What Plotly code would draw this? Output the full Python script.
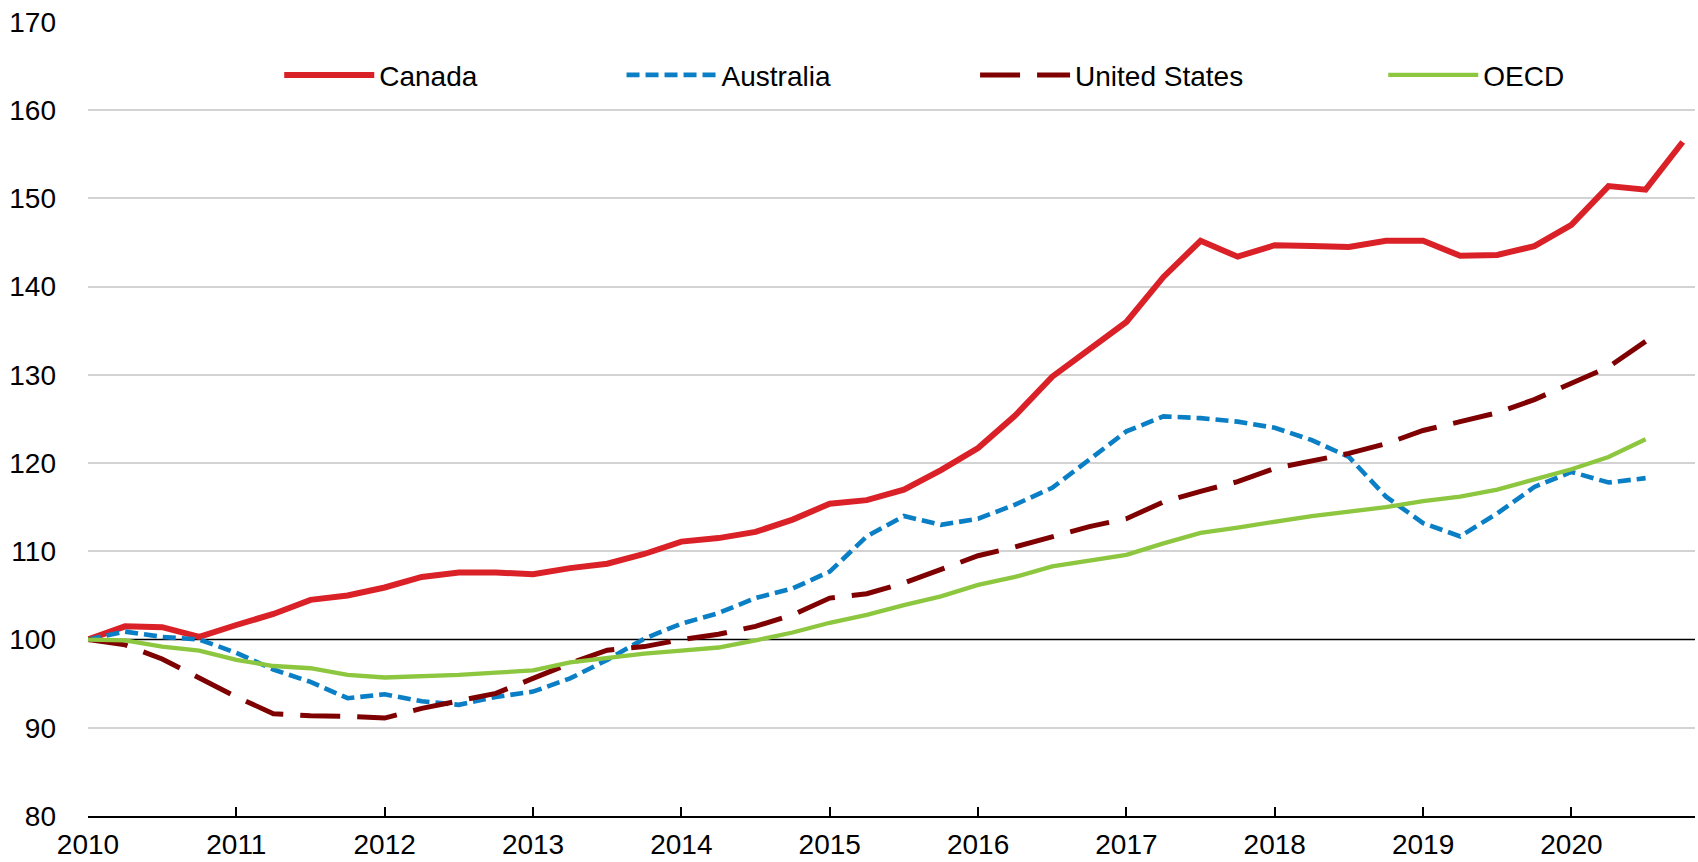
import plotly.graph_objects as go

# Quarterly index, 2010Q1 = 100
quarters = [2010 + i / 4 for i in range(44)]

canada = [100.0, 101.5, 101.4, 100.3, 101.65, 102.9, 104.5, 105.0, 105.9, 107.1, 107.6, 107.6,
          107.4, 108.1, 108.6, 109.7, 111.1, 111.5, 112.2, 113.6, 115.4, 115.8, 117.0, 119.2,
          121.7, 125.4, 129.8, 132.8, 136.0, 141.1, 145.2, 143.4, 144.7, 144.6, 144.5, 145.2,
          145.2, 143.5, 143.6, 144.6, 147.0, 151.4, 151.0, 156.4]

australia = [100.0, 100.9, 100.3, 100.0, 98.5, 96.6, 95.2, 93.35, 93.8, 93.0, 92.6, 93.5,
             94.1, 95.6, 97.7, 100.1, 101.8, 103.0, 104.7, 105.8, 107.7, 111.7, 114.0, 113.0,
             113.7, 115.3, 117.2, 120.4, 123.6, 125.3, 125.1, 124.7, 124.0, 122.6, 120.7, 116.2,
             113.2, 111.7, 114.3, 117.3, 119.0, 117.8, 118.3]

united_states = [100.0, 99.4, 97.8, 95.6, 93.5, 91.6, 91.35, 91.3, 91.1, 92.2, 93.0, 93.9,
                 95.6, 97.3, 98.8, 99.2, 100.0, 100.6, 101.5, 102.8, 104.7, 105.2, 106.4, 107.9,
                 109.5, 110.5, 111.7, 112.8, 113.7, 115.6, 116.8, 117.9, 119.4, 120.3, 121.1, 122.2,
                 123.7, 124.7, 125.7, 127.2, 129.0, 130.9, 133.8]

oecd = [100.0, 99.9, 99.2, 98.75, 97.7, 97.0, 96.75, 96.0, 95.7, 95.8, 96.0, 96.25,
        96.5, 97.4, 97.9, 98.4, 98.75, 99.1, 99.9, 100.8, 101.9, 102.8, 103.9, 104.9,
        106.2, 107.1, 108.3, 109.0, 109.6, 110.9, 112.1, 112.7, 113.4, 114.0, 114.5, 115.0,
        115.7, 116.2, 117.0, 118.1, 119.3, 120.7, 122.7]

year_ticks = list(range(2010, 2021))
y_ticks = list(range(80, 171, 10))
baseline = 100
grid_vals = [v for v in y_ticks if v not in (80, baseline)]

FONT = "Liberation Sans, Arial, sans-serif"
FS = 28

fig = go.Figure()

series = [
    ("Canada", canada, dict(color="#DA2128", width=6), "legend"),
    ("Australia", australia, dict(color="#0A7FC6", width=4.6, dash="13px,6px"), "legend2"),
    ("United States", united_states, dict(color="#7F0000", width=5, dash="40px,17px"), "legend3"),
    ("OECD", oecd, dict(color="#8DC63F", width=4.3), "legend4"),
]
for name, vals, line, lg in series:
    fig.add_trace(go.Scatter(x=quarters[:len(vals)], y=vals, mode="lines", name=name,
                             line=line, legend=lg, showlegend=True, hoverinfo="skip"))

fig.add_hline(y=baseline, line=dict(color="black", width=1.6), layer="below")

leg_common = dict(orientation="h", yanchor="middle", y=0.933, xanchor="left",
                  bgcolor="rgba(0,0,0,0)", font=dict(family=FONT, size=FS, color="black"),
                  itemwidth=90, visible=True)
fig.update_layout(
    width=1698, height=862,
    margin=dict(l=88, r=3, t=22, b=46),
    paper_bgcolor="white", plot_bgcolor="white",
    showlegend=True,
    font=dict(family=FONT, size=FS, color="black"),
    legend=dict(x=0.119, **leg_common),
    legend2=dict(x=0.332, **leg_common),
    legend3=dict(x=0.552, **leg_common),
    legend4=dict(x=0.806, **leg_common),
    xaxis=dict(range=[2010, 2020.833], tickmode="array", tickvals=year_ticks,
               ticktext=[str(y) for y in year_ticks], showgrid=False, zeroline=False,
               showline=True, linecolor="black", linewidth=2, ticks="inside", ticklen=9,
               tickwidth=2, tickcolor="black", ticklabelstandoff=2, automargin=False),
    yaxis=dict(range=[80, 170], tickmode="array", tickvals=y_ticks,
               ticktext=[str(v) for v in y_ticks], showgrid=False, zeroline=False,
               showline=False, ticks="", ticklabelstandoff=31, automargin=False,
               minor=dict(tickmode="array", tickvals=grid_vals, showgrid=True,
                          gridcolor="#D3D3D3", gridwidth=1.5, ticks="")),
)

fig.write_html("out.html", config={"displayModeBar": False},
               post_script="document.body.style.margin='0px';")
